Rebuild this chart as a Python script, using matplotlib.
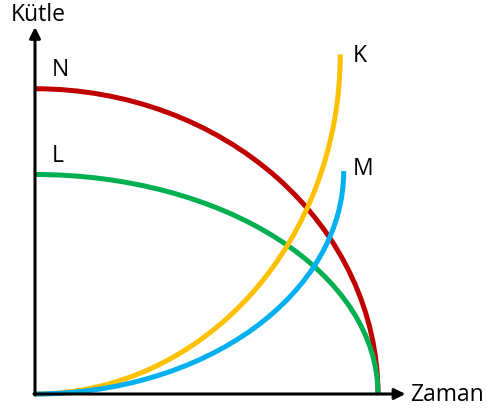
import matplotlib.pyplot as plt
from matplotlib.patches import Arc

# time axis reaches 10 where N and L drop to zero
end_time = 10.0
N_start_mass = 8.9
L_start_mass = 6.4
K_end = (8.9, 9.9)   # time, mass
M_end = (9.0, 6.5)
x_axis_end = 10.8
y_axis_end = 10.7

red = '#C00000'
green = '#00B050'
yellow = '#FFC000'
blue = '#00B0F0'

plt.rcParams['font.family'] = ['Open Sans', 'DejaVu Sans']

fig = plt.figure(figsize=(4.88, 4.18), dpi=100)
ax = fig.add_axes([0, 0, 1, 1])
px = 34.3  # pixels per data unit
ax.set_xlim(-35 / px, (488 - 35) / px)
ax.set_ylim(-(418 - 394) / px, 394 / px)
ax.axis('off')

lw = 3.6
# decreasing curves: quarter ellipses from the mass axis down to the time axis
ax.add_patch(Arc((0, 0), 2 * end_time, 2 * N_start_mass, theta1=0, theta2=90,
                 color=red, lw=lw))
ax.add_patch(Arc((0, 0), 2 * end_time, 2 * L_start_mass, theta1=0, theta2=90,
                 color=green, lw=lw))
# increasing curves: start at origin, rise steeply at the end
ax.add_patch(Arc((0, K_end[1]), 2 * K_end[0], 2 * K_end[1], theta1=270, theta2=360,
                 color=yellow, lw=lw))
ax.add_patch(Arc((0, M_end[1]), 2 * M_end[0], 2 * M_end[1], theta1=270, theta2=360,
                 color=blue, lw=lw))

arrow = dict(arrowstyle='-|>', lw=2.2, color='black', mutation_scale=16,
             shrinkA=0, shrinkB=0)
ax.annotate('', xy=(x_axis_end, 0), xytext=(-0.03, 0), arrowprops=arrow, zorder=5)
ax.annotate('', xy=(0, y_axis_end), xytext=(0, -0.03), arrowprops=arrow, zorder=5)

fs = 16.5
ax.text(-0.7, 11.05, 'Kütle', fontsize=fs, va='center', ha='left')
ax.text(x_axis_end + 0.15, -0.02, 'Zaman', fontsize=fs, va='center', ha='left')
ax.text(0.5, N_start_mass + 0.55, 'N', fontsize=fs, va='center', ha='left')
ax.text(0.5, L_start_mass + 0.55, 'L', fontsize=fs, va='center', ha='left')
ax.text(K_end[0] + 0.35, K_end[1] - 0.05, 'K', fontsize=fs, va='center', ha='left')
ax.text(M_end[0] + 0.25, M_end[1] + 0.05, 'M', fontsize=fs, va='center', ha='left')

fig.savefig('out.png', dpi=100)
